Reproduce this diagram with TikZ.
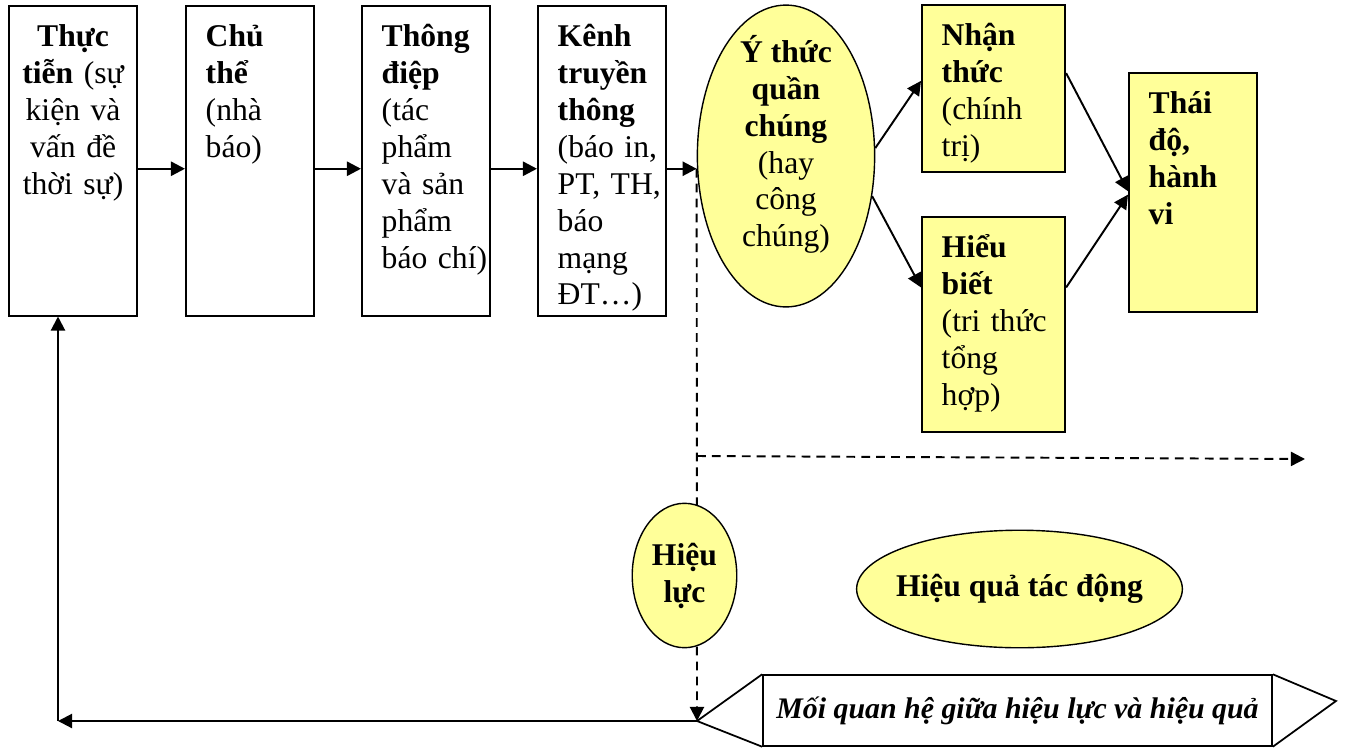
\documentclass[tikz,border=0pt]{standalone}
\usepackage{fontspec}
\setmainfont{Liberation Serif}
\usepackage{tikz}
\usetikzlibrary{positioning,arrows.meta,shapes.geometric}
\definecolor{paleyellow}{RGB}{255,255,153}
\hyphenpenalty=10000
\exhyphenpenalty=10000

\begin{document}
\begin{tikzpicture}[x=0.02cm,y=-0.02cm,
every node/.style={font=\fontsize{18}{21}\selectfont},
box/.style={draw,line width=1pt,anchor=north west,align=left,inner xsep=11.3pt,
inner ysep=0pt,text width=50.5pt,text height=23.2pt,text depth=153.1pt},
ybox/.style={box,fill=paleyellow},
oval/.style={ellipse,draw,line width=0.8pt,fill=paleyellow,inner sep=-6pt,
align=center,font=\fontsize{18}{21}\selectfont\bfseries},
arr/.style={-{Triangle[length=8pt,width=8pt]},line width=1.4pt},
dashline/.style={dash pattern=on 5pt off 3.5pt,line width=1.1pt}]
\useasboundingbox (0,0) rectangle (1347,748);

% chain of the message
\node[box,align=center,inner xsep=5.7pt,text width=61.7pt] (thuctien) at (8,5) {\textbf{Thực}\\\textbf{tiễn}~(sự\\kiện~và\\vấn~đề\\thời~sự)};
\node[box] (chuthe) at (185,5) {\textbf{Chủ}\\\textbf{thể}\\(nhà\\báo)};
\node[box] (thongdiep) at (361,5) {\textbf{Thông}\\\textbf{điệp}\\(tác\\phẩm\\và~sản\\phẩm\\báo~chí)};
\node[box] (kenh) at (537,5) {\textbf{Kênh}\\\textbf{truyền}\\\textbf{thông}\\(báo~in,\\PT,~TH,\\báo\\mạng\\ĐT…)};
\node[oval,minimum width=100.9pt,minimum height=171.8pt,inner ysep=-10pt,text depth=17pt] (ythuc) at (786,156) {Ý thức\\quần\\chúng\\\textnormal{(hay}\\\textnormal{công}\\\textnormal{chúng)}};
\node[ybox,text width=59pt,text depth=72pt] (nhanthuc) at (921,4) {\textbf{Nhận}\\\textbf{thức}\\(chính\\trị)};
\node[ybox,text width=59pt,text depth=99.2pt] (hieubiet) at (921,216) {\textbf{Hiểu}\\\textbf{biết}\\(tri~thức\\tổng\\hợp)};
\node[ybox,text depth=112.8pt] (thaido) at (1128,72) {\textbf{Thái}\\\textbf{độ,}\\\textbf{hành}\\\textbf{vi}};

\draw[arr] (thuctien.-7) -- (thuctien.-7 -| chuthe.west);
\draw[arr] (chuthe.-7) -- (chuthe.-7 -| thongdiep.west);
\draw[arr] (thongdiep.-7) -- (thongdiep.-7 -| kenh.west);
\coordinate (tap) at (kenh.-7 -| ythuc.west);
\draw[arr] (kenh.-7) -- (tap);
\draw[arr,line width=1.1pt] (ythuc.5) -- (nhanthuc.174);
\draw[arr,line width=1.1pt] (ythuc.-25) -- (hieubiet.153);
\draw[arr,line width=1.1pt] (nhanthuc.12) -- (thaido.179);
\draw[arr,line width=1.1pt] (hieubiet.27) -- (thaido.182);

% effect and feedback
\coordinate (mqhtip) at (697,721);
\coordinate (corner) at (58,721);
\coordinate (rtip) at (1336,701);
\coordinate (split) at (697,456);
\coordinate (eastend) at (1305,459);
\draw[dashline,-{Triangle[length=8pt,width=8pt]}] (tap) -- (mqhtip);
\draw[dashline,-{Triangle[length=8pt,width=8pt]}] (split) -- (eastend);
\node[oval,minimum width=59.5pt,minimum height=82.2pt] (hieuluc) at (684.5,575.5) {Hiệu\\lực};
\node[oval,minimum width=185.4pt,minimum height=66.9pt] (hieuqua) at (1019.5,589) {Hiệu quả tác động};
\node[draw,line width=1pt,minimum width=289.7pt,minimum height=40.2pt,
font=\fontsize{17}{20}\selectfont\bfseries\itshape] (mqh) at (1017.5,710.5) {Mối quan hệ giữa hiệu lực và hiệu quả};
\draw[line width=1pt] (mqh.north west) -- (mqhtip) -- (mqh.south west);
\draw[line width=1pt] (mqh.north east) -- (rtip) -- (mqh.south east);
\draw[arr,line width=1.2pt] (mqhtip) -- (corner);
\draw[arr,line width=1.2pt] (corner) -- (corner |- thuctien.south);
\end{tikzpicture}
\end{document}
